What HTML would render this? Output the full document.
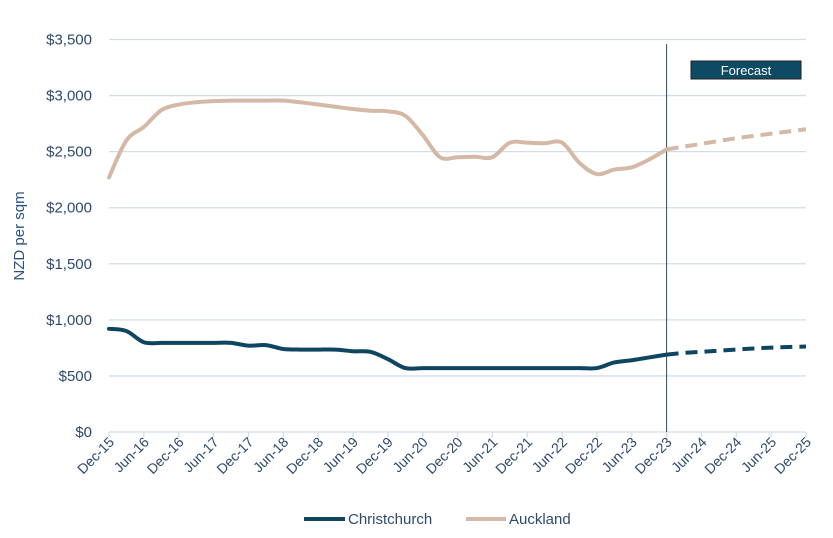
<!DOCTYPE html>
<html><head><meta charset="utf-8"><style>
html,body{margin:0;padding:0;background:#fff;}
svg{display:block;font-family:"Liberation Sans",sans-serif;}
</style></head><body>
<svg id="chart" width="833" height="538" viewBox="0 0 833 538" xmlns="http://www.w3.org/2000/svg">
<g id="grid"></g>
<g id="yaxis"></g>
<g id="xaxis"></g>
<g id="series"></g>
<text transform="translate(24,236) rotate(-90)" text-anchor="middle" font-size="15" fill="#2c5282">NZD per sqm</text>
<g>
<rect x="691" y="61" width="110" height="18" fill="#0d4a63" stroke="#222" stroke-width="1"/>
<text x="746" y="75" text-anchor="middle" font-size="13" fill="#fff">Forecast</text>
</g>
<g>
<g>
<line x1="304" y1="519" x2="345" y2="519" stroke="#0e4560" stroke-width="4"/>
<text x="348" y="524" font-size="15" fill="#2c4a6e">Christchurch</text>
</g>
<g>
<line x1="466" y1="519" x2="506" y2="519" stroke="#d4b9a6" stroke-width="4"/>
<text x="509" y="524" font-size="15" fill="#2c4a6e">Auckland</text>
</g>
</g>
</svg>
<script>
const tickLabels = ["Dec-15","Jun-16","Dec-16","Jun-17","Dec-17","Jun-18","Dec-18","Jun-19","Dec-19","Jun-20","Dec-20","Jun-21","Dec-21","Jun-22","Dec-22","Jun-23","Dec-23","Jun-24","Dec-24","Jun-25","Dec-25"];
const yTicks = [0,500,1000,1500,2000,2500,3000,3500];
// quarterly values Dec-15 .. Dec-25 (41 points); actual to Dec-23 (index 32)
const auckland = [2270,2600,2720,2870,2920,2940,2950,2955,2955,2955,2955,2940,2920,2900,2880,2865,2860,2820,2650,2450,2450,2455,2450,2580,2580,2575,2580,2400,2300,2340,2360,2430,2520,2545,2570,2595,2620,2640,2660,2680,2700];
const christchurch = [920,900,800,795,795,795,795,795,770,775,740,735,735,735,720,715,650,570,570,570,570,570,570,570,570,570,570,570,570,620,640,665,690,705,715,725,735,745,752,758,762];
const forecastStart = 33;
</script>
<script>
const NS="http://www.w3.org/2000/svg";
const X0=109, X1=806, Y0=432, Y1=39.5, YMAX=3500;
const nQ = (tickLabels.length-1)*2;
function xq(i){return X0+(X1-X0)*i/nQ;}
function y(v){return Y0-(Y0-Y1)*v/YMAX;}
function mk(tag,attrs,parent){const e=document.createElementNS(NS,tag);for(const k in attrs)e.setAttribute(k,attrs[k]);parent.appendChild(e);return e;}
const grid=document.getElementById('grid'), ya=document.getElementById('yaxis'), xa=document.getElementById('xaxis'), ser=document.getElementById('series');
yTicks.forEach(v=>{
  const l=mk('line',{x1:X0,x2:X1,y1:y(v),y2:y(v),stroke:'#d3dde9','stroke-width':1.3},grid);
  
  
  const t=mk('text',{x:92,y:y(v)+5,'text-anchor':'end','font-size':15,fill:'#2c4a6e'},ya);
  t.textContent='$'+v.toLocaleString('en-US');
  
  
});
tickLabels.forEach((lab,i)=>{
  const x=xq(i*2);
  const tk=mk('line',{x1:x,x2:x,y1:Y0,y2:Y0+5,stroke:'#d3dde9','stroke-width':1.3},xa);
  
  
  const t=mk('text',{transform:`translate(${x+6},${Y0+11}) rotate(-45)`,'text-anchor':'end','font-size':14,fill:'#2c4a6e'},xa);
  t.textContent=lab;
  
  
});
function pathFor(vals,a,b){
  const pts=[];for(let i=a;i<=b;i++)pts.push([xq(i),y(vals[i])]);
  let d='M'+pts[0][0]+','+pts[0][1];
  for(let i=0;i<pts.length-1;i++){
    const p0=pts[Math.max(0,i-1)],p1=pts[i],p2=pts[i+1],p3=pts[Math.min(pts.length-1,i+2)];
    const c1=[p1[0]+(p2[0]-p0[0])/6,p1[1]+(p2[1]-p0[1])/6];
    const c2=[p2[0]-(p3[0]-p1[0])/6,p2[1]-(p3[1]-p1[1])/6];
    d+=` C${c1[0]},${c1[1]} ${c2[0]},${c2[1]} ${p2[0]},${p2[1]}`;
  }
  return d;
}
const fsIdx=forecastStart-1;
const vl=mk('line',{x1:xq(fsIdx),x2:xq(fsIdx),y1:44,y2:Y0,stroke:'#2b4f5f','stroke-width':1},ser);


[[auckland,'#d4b9a6','auckland'],[christchurch,'#0e4560','christchurch']].forEach(([vals,col,name])=>{
  const a=mk('path',{d:pathFor(vals,0,fsIdx),fill:'none',stroke:col,'stroke-width':4,'stroke-linejoin':'round','stroke-linecap':'round'},ser);
  
  
  const f=mk('path',{d:pathFor(vals,fsIdx,vals.length-1),fill:'none',stroke:col,'stroke-width':4,'stroke-dasharray':'12,7'},ser);
  
  
});
</script>
</body></html>
